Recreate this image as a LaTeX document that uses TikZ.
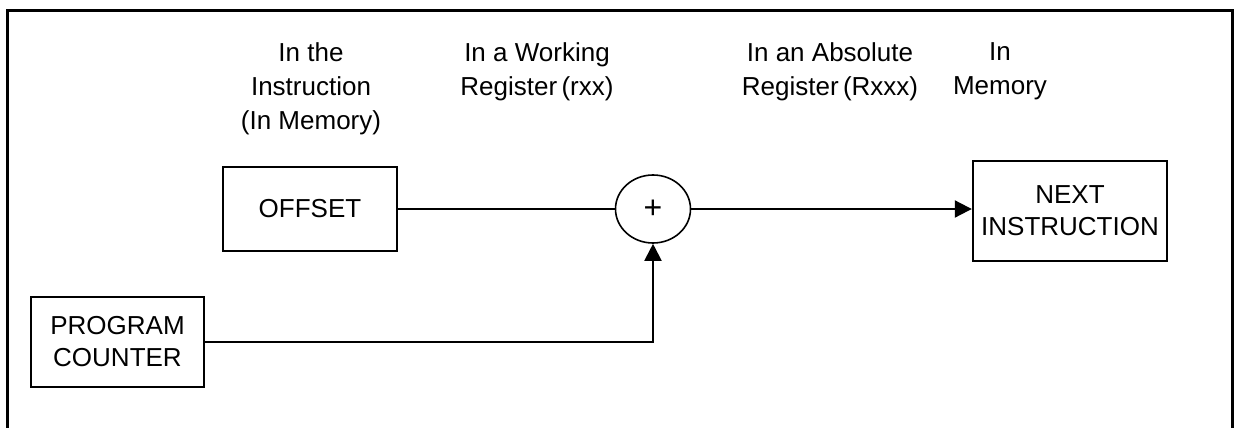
\documentclass[tikz,border=0pt]{standalone}
\usepackage{fontspec}
\setmainfont{Liberation Sans}
\usetikzlibrary{shapes.geometric,arrows.meta}
\tikzset{
  blk/.style={draw,line width=1.2pt,align=center,font=\fontsize{13pt}{16pt}\selectfont},
  lbl/.style={anchor=north,inner sep=0pt,align=center,font=\fontsize{13pt}{17pt}\selectfont},
  wire/.style={line width=1pt},
  tip/.style={-{Triangle[length=8.5pt,width=8.5pt]}}
}
\begin{document}
\begin{tikzpicture}[x=0.5pt,y=-0.5pt]
\useasboundingbox (0,0) rectangle (1236,428);
% frame, open at the bottom
\draw [line width=1.5pt] (7,428) -- (7,10) -- (1232,10) -- (1232,428);
% column headings
\node [lbl] (hd1) at (311,42) {In the\\Instruction\\(In Memory)};
\node [lbl] (hd2) at (537,42) {In a Working\\Register\,(rxx)};
\node [lbl] (hd3) at (830,42) {In an Absolute\\Register\,(Rxxx)};
\node [lbl] (hd4) at (1000,42) {In\\Memory};
% blocks
\node [blk,minimum width=87pt,minimum height=42pt] (offset) at (310,209) {OFFSET};
\node [blk,minimum width=86.5pt,minimum height=45pt] (pc) at (117.5,342) {PROGRAM\\COUNTER};
\node [blk,minimum width=97pt,minimum height=50pt] (next) at (1070,211) {NEXT\\INSTRUCTION};
\node [draw,ellipse,line width=0.8pt,minimum width=37.5pt,minimum height=34pt,inner sep=0pt,font=\fontsize{16pt}{16pt}\selectfont] (sum) at (653,209) {+};
% connections
\draw [wire] (offset.east) -- (sum.west);
\draw [wire,tip] (sum.east) -- (sum.east -| next.west);
\draw [wire,tip] (pc.east) -| (sum.south);
\end{tikzpicture}
\end{document}
